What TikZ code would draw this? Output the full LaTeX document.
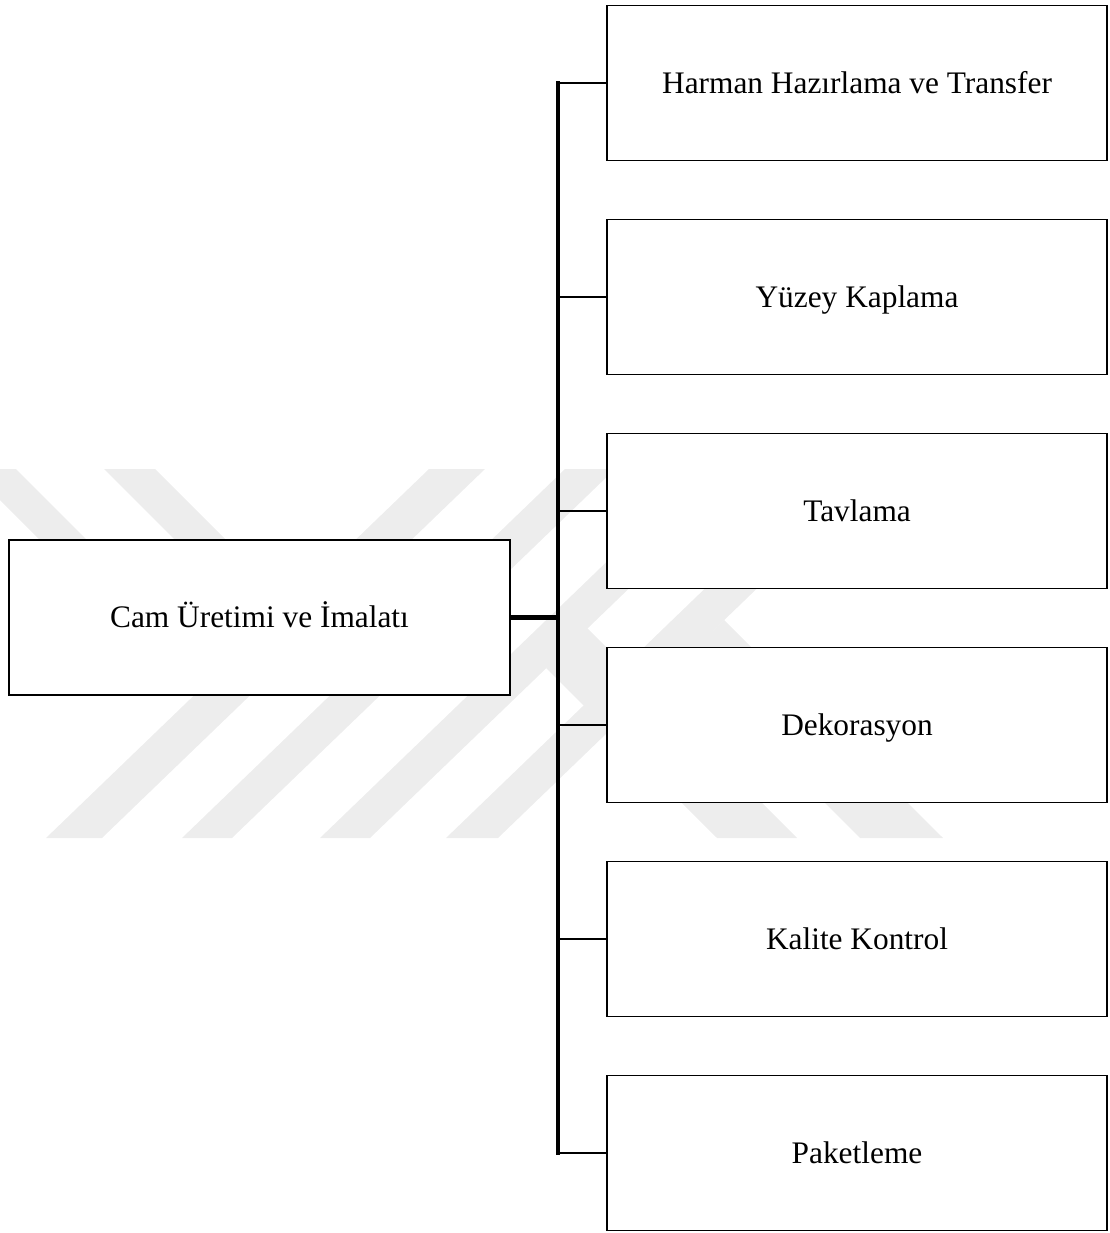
\documentclass[tikz,border=0pt]{standalone}
\usepackage{fontspec}
\setmainfont{Liberation Serif}

\tikzset{
  stage/.style={draw,line width=1.3pt,fill=white,minimum width=12.5cm,
    minimum height=3.875cm,inner sep=0pt,text height=14.7pt,text depth=0pt,
    font=\fontsize{22.3}{26}\selectfont},
  link/.style={line width=1.5pt},
}

\begin{document}
\begin{tikzpicture}[x=0.025cm,y=-0.025cm]
  \useasboundingbox (0,0) rectangle (1109,1233);
  % faint watermark behind the chart
  \begin{scope}[black!7]
    \fill (-31,469) -- (16,469) -- (147,600) -- (100,600) -- cycle;
    \fill (104,469) -- (155,469) -- (289,603) -- (238,603) -- cycle;
    \fill (429,469) -- (485,469) -- (102,838) -- (46,838) -- cycle;
    \fill (565,469) -- (615,469) -- (232,838) -- (182,838) -- cycle;
    \fill (703,469) -- (753,469) -- (370,838) -- (320,838) -- cycle;
    \fill (829,469) -- (881,469) -- (498,838) -- (446,838) -- cycle;
    \fill (587,628) -- (797,838) -- (717,838) -- (546,668) -- cycle;
    \fill (724,620) -- (943,838) -- (860,838) -- (682,660) -- cycle;
  \end{scope}
  \node[stage,minimum width=12.525cm] (main) at (259.5,617.5) {Cam Üretimi ve İmalatı};
  \foreach \t [count=\i] in {Harman Hazırlama ve Transfer,Yüzey Kaplama,Tavlama,Dekorasyon,Kalite Kontrol,Paketleme}
    \node[stage] (s\i) at (857,{83+214*(\i-1)}) {\t};
  \coordinate (bus) at (558,619);
  \foreach \i in {1,...,6}
    \draw[link] (s\i.west) -- (s\i.west -| bus);
  \draw[line width=2.2pt,line cap=rect] (s1.west -| bus) -- (s6.west -| bus);
  \draw[line width=3pt] (main.east) -- (main.east -| bus);
\end{tikzpicture}
\end{document}
